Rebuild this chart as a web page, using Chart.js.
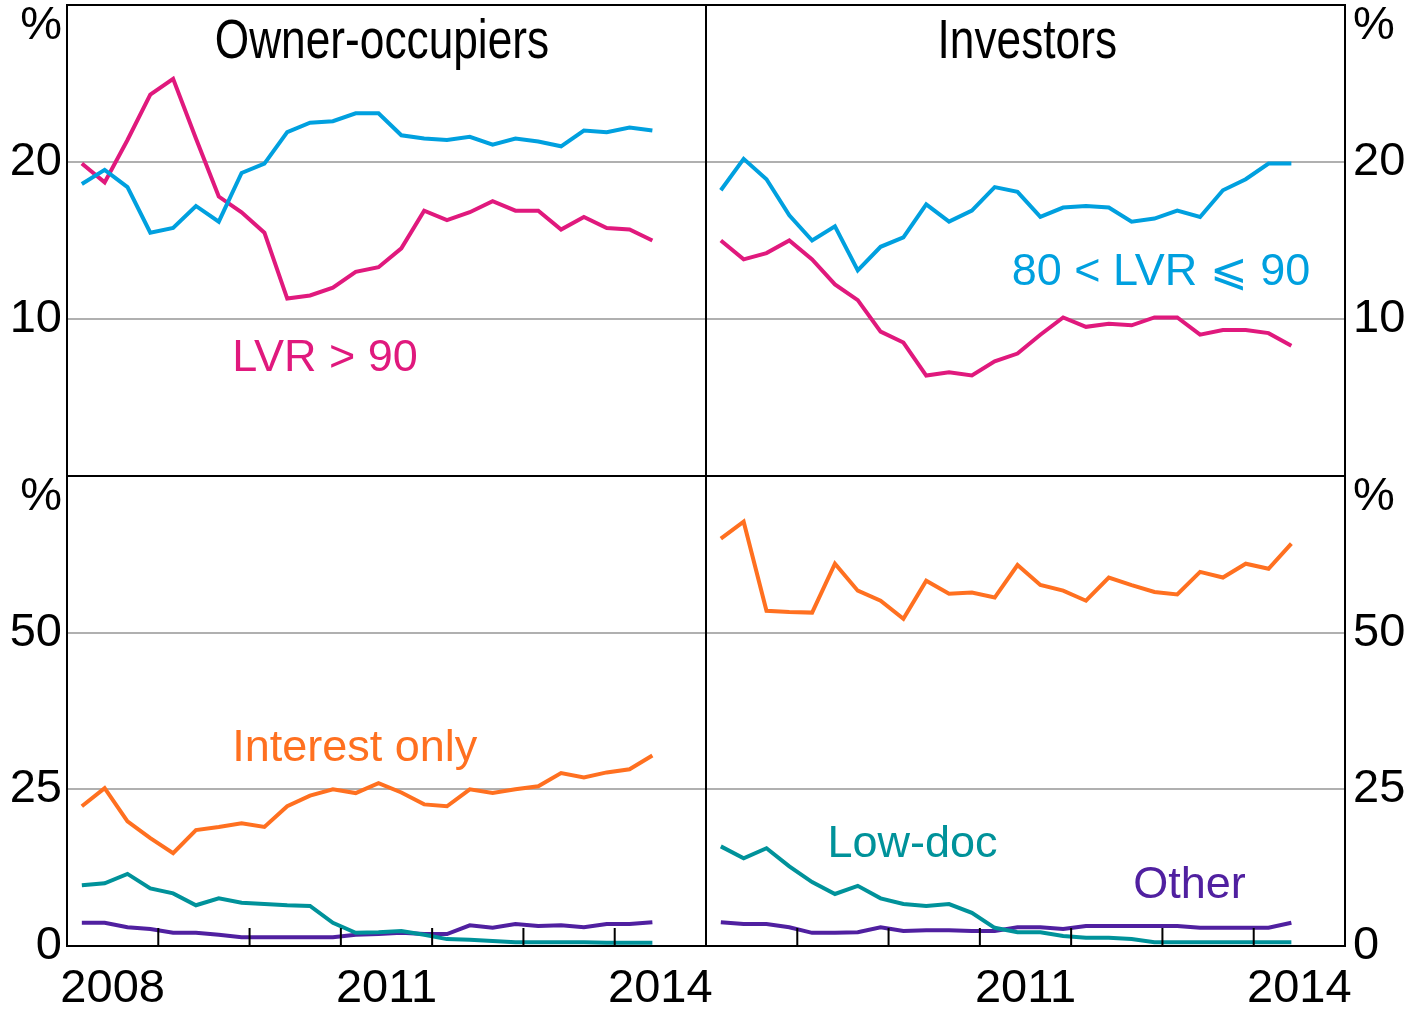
<!DOCTYPE html>
<html>
<head>
<meta charset="utf-8">
<script src="https://cdn.jsdelivr.net/npm/chart.js@4.4.0/dist/chart.umd.min.js"></script>
<style>
  html, body { margin: 0; padding: 0; background: #fff; }
  #wrap { position: relative; width: 1419px; height: 1012px; }
  #wrap canvas { position: absolute; left: 0; top: 0; }
</style>
</head>
<body>
<div id="wrap">
  <canvas id="ownerLvr" width="1419" height="1012"></canvas>
  <canvas id="investorLvr" width="1419" height="1012"></canvas>
  <canvas id="ownerType" width="1419" height="1012"></canvas>
  <canvas id="investorType" width="1419" height="1012"></canvas>
</div>
<script>
// quarterly observations, March 2008 to June 2014
const quarters = [
  '2008-Q1', '2008-Q2', '2008-Q3', '2008-Q4', '2009-Q1', '2009-Q2', '2009-Q3', '2009-Q4',
  '2010-Q1', '2010-Q2', '2010-Q3', '2010-Q4', '2011-Q1', '2011-Q2', '2011-Q3', '2011-Q4',
  '2012-Q1', '2012-Q2', '2012-Q3', '2012-Q4', '2013-Q1', '2013-Q2', '2013-Q3', '2013-Q4',
  '2014-Q1', '2014-Q2'
];

// top row: loan-to-valuation shares (%)
const ownerLvrAbove90 = [19.9, 18.7, 21.4, 24.3, 25.3, 21.5, 17.8, 16.8, 15.5, 11.3, 11.5, 12.0, 13.0,
  13.3, 14.5, 16.9, 16.3, 16.8, 17.5, 16.9, 16.9, 15.7, 16.5, 15.8, 15.7, 15.0];
const ownerLvr80to90 = [18.6, 19.5, 18.4, 15.5, 15.8, 17.2, 16.2, 19.3, 19.9, 21.9, 22.5, 22.6, 23.1,
  23.1, 21.7, 21.5, 21.4, 21.6, 21.1, 21.5, 21.3, 21.0, 22.0, 21.9, 22.2, 22.0];
const investorLvrAbove90 = [15.0, 13.8, 14.2, 15.0, 13.8, 12.2, 11.2, 9.2, 8.5, 6.4, 6.6, 6.4, 7.3,
  7.8, 9.0, 10.1, 9.5, 9.7, 9.6, 10.1, 10.1, 9.0, 9.3, 9.3, 9.1, 8.3];
const investorLvr80to90 = [18.2, 20.2, 18.9, 16.6, 15.0, 15.9, 13.1, 14.6, 15.2, 17.3, 16.2, 16.9, 18.4,
  18.1, 16.5, 17.1, 17.2, 17.1, 16.2, 16.4, 16.9, 16.5, 18.2, 18.9, 19.9, 19.9];

// bottom row: loan type shares (%)
const ownerInterestOnly = [22.3, 25.2, 19.9, 17.2, 14.8, 18.5, 19.0, 19.6, 19.0, 22.3, 24.0, 25.0, 24.4,
  26.0, 24.5, 22.6, 22.3, 25.0, 24.4, 25.0, 25.5, 27.6, 26.9, 27.7, 28.2, 30.4];
const ownerLowDoc = [9.7, 10.0, 11.5, 9.2, 8.4, 6.5, 7.6, 6.9, 6.7, 6.5, 6.4, 3.7, 2.1,
  2.2, 2.4, 1.8, 1.1, 1.0, 0.8, 0.6, 0.6, 0.6, 0.6, 0.5, 0.5, 0.5];
const ownerOther = [3.7, 3.7, 3.0, 2.7, 2.1, 2.1, 1.8, 1.4, 1.4, 1.4, 1.4, 1.4, 1.8,
  1.9, 2.1, 1.9, 1.9, 3.3, 2.9, 3.5, 3.2, 3.3, 3.0, 3.5, 3.5, 3.8];
const investorInterestOnly = [65.0, 67.7, 53.5, 53.3, 53.2, 61.0, 56.7, 55.1, 52.2, 58.3, 56.2, 56.4, 55.6,
  60.8, 57.6, 56.7, 55.1, 58.8, 57.6, 56.5, 56.1, 59.7, 58.8, 61.0, 60.2, 64.2];
const investorLowDoc = [15.9, 14.0, 15.6, 12.7, 10.2, 8.3, 9.6, 7.6, 6.7, 6.4, 6.7, 5.3, 2.9,
  2.2, 2.2, 1.6, 1.3, 1.3, 1.1, 0.6, 0.6, 0.6, 0.6, 0.6, 0.6, 0.6];
const investorOther = [3.8, 3.5, 3.5, 3.0, 2.1, 2.1, 2.2, 3.0, 2.4, 2.5, 2.5, 2.4, 2.4,
  3.0, 3.0, 2.7, 3.2, 3.2, 3.2, 3.2, 3.2, 2.9, 2.9, 2.9, 2.9, 3.7];

// axes
const topYTicks = [10, 20];
const bottomYTicks = [0, 25, 50];
const leftYearLabels = [2008, 2011, 2014];
const rightYearLabels = [2011, 2014];
const yearMarks = [2009, 2010, 2011, 2012, 2013, 2014];

const COLORS = {
  blue: '#00a0df',
  magenta: '#e0197d',
  orange: '#ff7020',
  teal: '#00929a',
  purple: '#5020a0',
  grid: '#b0b0b0'
};
const FONT = '"Liberation Sans", Arial, sans-serif';

// page geometry of the 2x2 panel grid
const PAGE_W = 1419, PAGE_H = 1012;
const LEFT = 67, MID_X = 706, RIGHT = 1345, TOP = 5, MID_Y = 476, BOTTOM = 946;

Chart.defaults.font.family = FONT;
Chart.defaults.font.size = 47;
Chart.defaults.color = '#000';

function quarterToYear(q) {
  const [yr, qq] = q.split('-Q');
  return Number(yr) + (Number(qq) - 1 + 0.65) / 4;
}

function toPoints(values) {
  return values.map((v, i) => ({ x: quarterToYear(quarters[i]), y: v }));
}

function lineSet(values, color) {
  return {
    data: toPoints(values),
    borderColor: color,
    borderWidth: 4,
    pointRadius: 0,
    tension: 0,
    fill: false
  };
}

// frame, year marks, % unit, panel title and series notes
const panelDecor = {
  id: 'panelDecor',
  afterDraw(chart, args, opts) {
    const { ctx, chartArea: a } = chart;
    const xs = chart.scales.x, ys = chart.scales.y;
    ctx.save();

    if (opts.yearMarks) {
      ctx.strokeStyle = '#000';
      ctx.lineWidth = 2;
      ctx.beginPath();
      opts.yearMarks.forEach(yr => {
        const px = xs.getPixelForValue(yr);
        ctx.moveTo(px, a.bottom);
        ctx.lineTo(px, a.bottom - 18);
      });
      ctx.stroke();
    }

    ctx.strokeStyle = '#000';
    ctx.lineWidth = 2;
    ctx.strokeRect(a.left, a.top, a.right - a.left, a.bottom - a.top);

    ctx.fillStyle = '#000';
    ctx.font = '47px ' + FONT;
    ctx.textBaseline = 'middle';
    if (opts.side === 'left') {
      ctx.textAlign = 'right';
      ctx.fillText('%', a.left - 5, a.top + 21);
    } else {
      ctx.textAlign = 'left';
      ctx.fillText('%', a.right + 8, a.top + 21);
    }

    ctx.textBaseline = 'alphabetic';
    if (opts.title) {
      const t = opts.title;
      ctx.save();
      ctx.font = '56px ' + FONT;
      ctx.textAlign = 'center';
      ctx.translate(xs.getPixelForValue(t.x), ys.getPixelForValue(t.y));
      ctx.scale(0.79, 1);
      ctx.fillText(t.text, 0, 0);
      ctx.restore();
    }

    (opts.notes || []).forEach(n => {
      ctx.font = '45px ' + FONT;
      ctx.fillStyle = n.color;
      ctx.textAlign = n.align || 'left';
      ctx.fillText(n.text, xs.getPixelForValue(n.x), ys.getPixelForValue(n.y));
    });
    ctx.restore();
  }
};

function makePanel(id, cfg) {
  const isLeft = cfg.side === 'left';
  const isTop = cfg.row === 'top';
  const padding = {
    left: isLeft ? 0 : MID_X,
    right: isLeft ? PAGE_W - MID_X : 0,
    top: isTop ? TOP : MID_Y,
    bottom: isTop ? PAGE_H - MID_Y : 0
  };
  const yTicks = isTop ? topYTicks : bottomYTicks;

  return new Chart(document.getElementById(id), {
    type: 'line',
    data: { datasets: cfg.datasets },
    options: {
      responsive: false,
      animation: false,
      devicePixelRatio: 1,
      events: [],
      layout: { padding },
      plugins: {
        legend: { display: false },
        tooltip: { enabled: false },
        panelDecor: {
          side: cfg.side,
          title: cfg.title,
          notes: cfg.notes,
          yearMarks: isTop ? null : yearMarks
        }
      },
      scales: {
        x: {
          type: 'linear',
          min: 2008,
          max: 2015,
          display: !isTop,
          position: 'bottom',
          afterBuildTicks: s => { s.ticks = (cfg.yearLabels || []).map(yr => ({ value: yr + 0.5 })); },
          afterFit: s => {
            s.height = isTop ? 0 : PAGE_H - BOTTOM;
            s.paddingLeft = 0;
            s.paddingRight = 0;
          },
          grid: { display: false, drawTicks: false },
          border: { display: false },
          ticks: {
            autoSkip: false,
            maxRotation: 0,
            padding: 15,
            callback: v => String(Math.floor(v))
          }
        },
        y: {
          type: 'linear',
          position: cfg.side,
          min: 0,
          max: isTop ? 30 : 75,
          afterBuildTicks: s => { s.ticks = yTicks.map(v => ({ value: v })); },
          afterFit: s => {
            s.width = isLeft ? LEFT : PAGE_W - RIGHT;
            s.paddingTop = 0;
            s.paddingBottom = 0;
          },
          grid: {
            drawTicks: false,
            lineWidth: 2,
            color: c => (c.tick && c.tick.value === 0) ? 'rgba(0,0,0,0)' : COLORS.grid
          },
          border: { display: false },
          ticks: {
            padding: isLeft ? 5 : 8,
            callback: v => String(v)
          }
        }
      }
    },
    plugins: [panelDecor]
  });
}

makePanel('ownerLvr', {
  side: 'left', row: 'top',
  title: { text: 'Owner-occupiers', x: 2011.45, y: 26.6 },
  datasets: [lineSet(ownerLvr80to90, COLORS.blue), lineSet(ownerLvrAbove90, COLORS.magenta)],
  notes: [{ text: 'LVR > 90', x: 2009.81, y: 6.66, color: COLORS.magenta }]
});

makePanel('investorLvr', {
  side: 'right', row: 'top',
  title: { text: 'Investors', x: 2011.52, y: 26.6 },
  datasets: [lineSet(investorLvr80to90, COLORS.blue), lineSet(investorLvrAbove90, COLORS.magenta)],
  notes: [{ text: '80 < LVR \u2A7D 90', x: 2014.62, y: 12.17, color: COLORS.blue, align: 'right' }]
});

makePanel('ownerType', {
  side: 'left', row: 'bottom',
  yearLabels: leftYearLabels,
  datasets: [
    lineSet(ownerInterestOnly, COLORS.orange),
    lineSet(ownerLowDoc, COLORS.teal),
    lineSet(ownerOther, COLORS.purple)
  ],
  notes: [{ text: 'Interest only', x: 2009.81, y: 29.6, color: COLORS.orange }]
});

makePanel('investorType', {
  side: 'right', row: 'bottom',
  yearLabels: rightYearLabels,
  datasets: [
    lineSet(investorInterestOnly, COLORS.orange),
    lineSet(investorLowDoc, COLORS.teal),
    lineSet(investorOther, COLORS.purple)
  ],
  notes: [
    { text: 'Low-doc', x: 2009.33, y: 14.2, color: COLORS.teal },
    { text: 'Other', x: 2012.68, y: 7.6, color: COLORS.purple }
  ]
});
</script>
</body>
</html>
